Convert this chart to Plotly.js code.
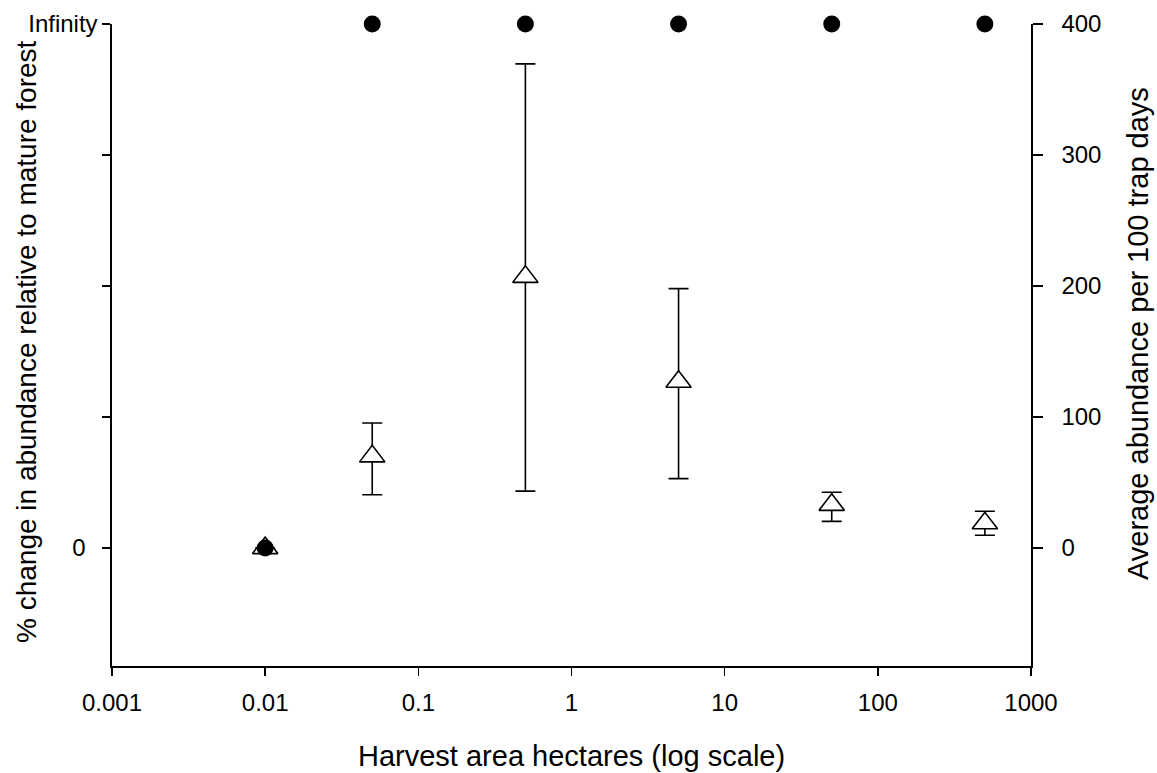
<!DOCTYPE html>
<html>
<head>
<meta charset="utf-8">
<script src="https://cdn.plot.ly/plotly-3.0.1.min.js"></script>
<style>html,body{margin:0;padding:0;background:#fff;}#chart{width:1157px;height:773px;}</style>
</head>
<body>
<div id="chart"></div>
<script>
// Harvest area (hectares)
const harvestArea = [0.01, 0.05, 0.5, 5, 50, 500];
// Average abundance per 100 trap days (triangles, right axis)
const abundanceMean = [0, 70, 207, 127, 33, 19];
const abundanceUpper = [0, 95.5, 369.6, 198, 42.6, 28.1];
const abundanceLower = [0, 40.7, 43.5, 53, 20.4, 9.8];
// % change relative to mature forest (circles, left axis; top = "Infinity")
const pctChange = [0, 400, 400, 400, 400, 400];
// tick labels
const xTickVals = [0.001, 0.01, 0.1, 1, 10, 100, 1000];
const xTickText = ['0.001', '0.01', '0.1', '1', '10', '100', '1000'];
const leftTickVals = [0, 100, 200, 300, 400];
const leftTickText = ['0\u2002', '', '', '', 'Infinity'];
const rightTickVals = [0, 100, 200, 300, 400];
const rightTickText = ['0', '100', '200', '300', '400'];

const errPlus = abundanceUpper.map((u, i) => u - abundanceMean[i]);
const errMinus = abundanceLower.map((l, i) => abundanceMean[i] - l);

const FONT = 'Liberation Sans, Arial, sans-serif';

const traces = [
  {
    x: harvestArea, y: abundanceMean, yaxis: 'y', type: 'scatter', mode: 'markers',
    marker: {symbol: 'triangle-up', size: 22, color: '#ffffff', line: {color: '#000', width: 1.6}},
    error_y: {type: 'data', symmetric: false, array: errPlus, arrayminus: errMinus,
      color: '#000', thickness: 1.6, width: 10},
    cliponaxis: false, showlegend: false, hoverinfo: 'x+y'
  },
  {
    x: harvestArea, y: pctChange, yaxis: 'y2', type: 'scatter', mode: 'markers',
    marker: {symbol: 'circle', size: 17, color: '#000', line: {color: '#000', width: 0}},
    cliponaxis: false, showlegend: false, hoverinfo: 'x+y'
  }
];

const axisCommon = {
  showgrid: false, zeroline: false, showline: true, linecolor: '#000', linewidth: 1.6,
  ticks: 'outside', tickcolor: '#000', tickwidth: 1.6,
  tickfont: {family: FONT, size: 24, color: '#000'}
};

const layout = {
  width: 1157, height: 773,
  margin: {l: 112, r: 126, t: 24, b: 107, pad: 0},
  paper_bgcolor: '#fff', plot_bgcolor: '#fff',
  font: {family: FONT, color: '#000'},
  xaxis: Object.assign({}, axisCommon, {
    type: 'log', range: [-3, 3], tickmode: 'array', tickvals: xTickVals, ticktext: xTickText,
    ticklen: 8, ticklabelstandoff: 7
  }),
  yaxis: Object.assign({}, axisCommon, {
    range: [-90, 400], tickmode: 'array', tickvals: rightTickVals, ticktext: rightTickText,
    side: 'right', ticklen: 10, ticklabelstandoff: 14
  }),
  yaxis2: Object.assign({}, axisCommon, {
    range: [-90, 400], tickmode: 'array', tickvals: leftTickVals, ticktext: leftTickText,
    overlaying: 'y', side: 'left', ticklen: 8
  }),
  annotations: [
    {text: 'Harvest area hectares (log scale)', xref: 'paper', yref: 'paper', x: 0.5, y: 0,
      yshift: -90, xanchor: 'center', yanchor: 'middle', showarrow: false,
      font: {family: FONT, size: 29, color: '#000'}},
    {text: '% change in abundance relative to mature forest', xref: 'paper', yref: 'paper', x: 0, y: 0.5,
      xshift: -86, yshift: 3, xanchor: 'center', yanchor: 'middle', textangle: -90, showarrow: false,
      font: {family: FONT, size: 28, color: '#000'}},
    {text: 'Average abundance per 100 trap days', xref: 'paper', yref: 'paper', x: 1, y: 0.5,
      xshift: 107, yshift: 11, xanchor: 'center', yanchor: 'middle', textangle: -90, showarrow: false,
      font: {family: FONT, size: 29, color: '#000'}}
  ]
};

Plotly.newPlot('chart', traces, layout, {displayModeBar: false, staticPlot: true});
</script>
</body>
</html>
